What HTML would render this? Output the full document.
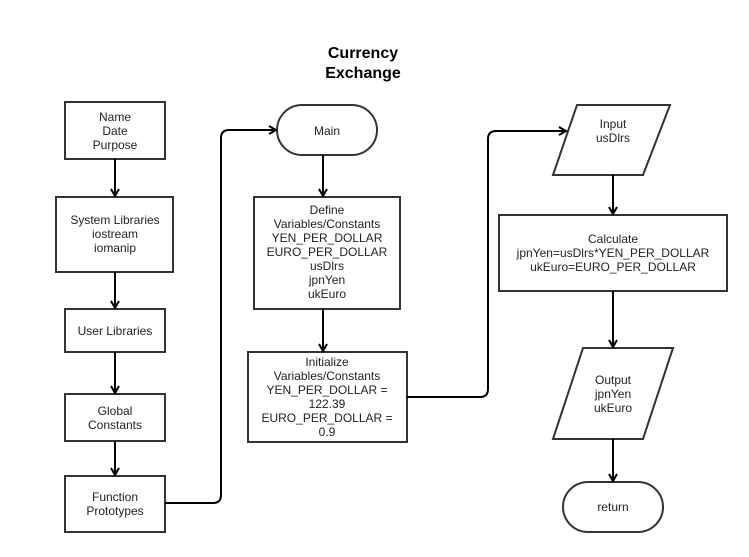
<!DOCTYPE html>
<html><head><meta charset="utf-8"><style>body{margin:0;background:#fff}</style></head><body>
<svg width="749" height="552" viewBox="0 0 749 552" xmlns="http://www.w3.org/2000/svg" font-family="Liberation Sans, sans-serif">
<defs><marker id="a" markerWidth="10" markerHeight="10" refX="8" refY="5" orient="auto" markerUnits="userSpaceOnUse"><path d="M1,1 L8,5 L1,9" fill="none" stroke="#000" stroke-width="2"/></marker></defs>
<text x="363" y="58" font-size="16" font-weight="bold" text-anchor="middle">Currency</text>
<text x="363" y="78" font-size="16" font-weight="bold" text-anchor="middle">Exchange</text>
<g fill="#fff" stroke="#333" stroke-width="2">
<rect x="65" y="102" width="100" height="57"/>
<rect x="56" y="197" width="117" height="75"/>
<rect x="65" y="309" width="100" height="43"/>
<rect x="65" y="394" width="100" height="47"/>
<rect x="65" y="476" width="100" height="56"/>
<rect x="277" y="105" width="100" height="50" rx="25"/>
<rect x="254" y="197" width="146" height="112"/>
<rect x="248" y="352" width="159" height="90"/>
<polygon points="577,105 670,105 643,175 553,175"/>
<rect x="499" y="215" width="228" height="76"/>
<polygon points="583,348 673,348 643,439 553,439"/>
<rect x="563" y="482" width="100" height="50" rx="25"/>
</g>
<g stroke="#000" stroke-width="2" fill="none" marker-end="url(#a)">
<line x1="115" y1="159" x2="115" y2="196"/>
<line x1="115" y1="272" x2="115" y2="308"/>
<line x1="115" y1="352" x2="115" y2="393"/>
<line x1="115" y1="441" x2="115" y2="475"/>
<line x1="323" y1="155" x2="323" y2="196"/>
<line x1="323" y1="309" x2="323" y2="351"/>
<line x1="613" y1="175" x2="613" y2="214"/>
<line x1="613" y1="291" x2="613" y2="347"/>
<line x1="613" y1="439" x2="613" y2="481"/>
<path d="M165,503 H213 Q221,503 221,495 V138 Q221,130 229,130 H276"/>
<path d="M407,397 H480 Q488,397 488,389 V139 Q488,131 496,131 H566"/>
</g>
<g font-size="12" fill="#222" text-anchor="middle">
<text x="115" y="121">Name</text><text x="115" y="135">Date</text><text x="115" y="149">Purpose</text>
<text x="115" y="224">System Libraries</text><text x="115" y="238">iostream</text><text x="115" y="252">iomanip</text>
<text x="115" y="335">User Libraries</text>
<text x="115" y="415">Global</text><text x="115" y="429">Constants</text>
<text x="115" y="501">Function</text><text x="115" y="515">Prototypes</text>
<text x="327" y="135">Main</text>
<text x="327" y="214">Define</text><text x="327" y="228">Variables/Constants</text><text x="327" y="242">YEN_PER_DOLLAR</text><text x="327" y="256">EURO_PER_DOLLAR</text><text x="327" y="270">usDlrs</text><text x="327" y="284">jpnYen</text><text x="327" y="298">ukEuro</text>
<text x="327" y="366">Initialize</text><text x="327" y="380">Variables/Constants</text><text x="327" y="394">YEN_PER_DOLLAR =</text><text x="327" y="408">122.39</text><text x="327" y="422">EURO_PER_DOLLAR =</text><text x="327" y="436">0.9</text>
<text x="613" y="128">Input</text><text x="613" y="142">usDlrs</text>
<text x="613" y="243">Calculate</text><text x="613" y="257">jpnYen=usDlrs*YEN_PER_DOLLAR</text><text x="613" y="271">ukEuro=EURO_PER_DOLLAR</text>
<text x="613" y="384">Output</text><text x="613" y="398">jpnYen</text><text x="613" y="412">ukEuro</text>
<text x="613" y="511">return</text>
</g>
</svg>
</body></html>
